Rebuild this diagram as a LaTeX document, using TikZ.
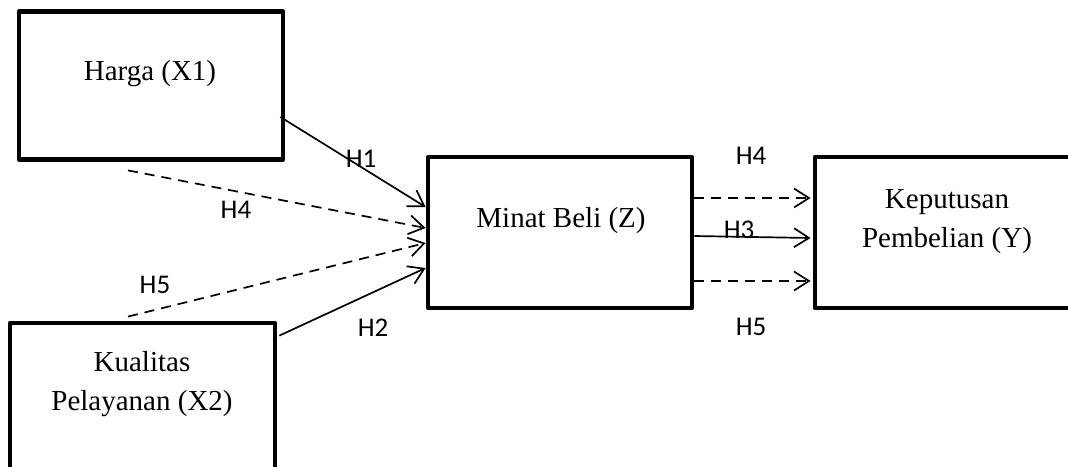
\documentclass[tikz,border=0pt]{standalone}
\usepackage{fontspec}
\setmainfont{Liberation Serif}
\newfontfamily\lblfont{Carlito}
\usetikzlibrary{arrows.meta}
\tikzset{
  x=1pt, y=-1pt,
  boxnode/.style={draw, line width=4.8pt, rectangle, inner sep=0pt, line join=round},
  boxtext/.style={font=\fontsize{29}{38.5}\selectfont, align=center, inner sep=0pt, anchor=base},
  hlabel/.style={font=\lblfont\fontsize{27}{30}\selectfont, inner sep=0pt, anchor=base},
  conn/.style={line width=1.7pt, -{Straight Barb[length=15pt,width=19pt,line width=1.7pt]}},
  dconn/.style={conn, dash pattern=on 10pt off 7pt}
}
\begin{document}
\begin{tikzpicture}
\useasboundingbox (0,0) rectangle (1068,466);
\clip (0,0) rectangle (1068,466);
% boxes
\node[boxnode, minimum width=264pt, minimum height=148pt] (x1) at (151,85.5) {};
\node[boxnode, minimum width=265pt, minimum height=167pt] (x2) at (142.5,406.5) {};
\node[boxnode, minimum width=264pt, minimum height=151pt] (z) at (560,232.5) {};
\node[boxnode, minimum width=280pt, minimum height=151pt] (y) at (955,232.5) {};
% box texts (base = baseline of last line)
\node[boxtext] (x1t) at (150,80) {Harga (X1)};
\node[boxtext] (x2t) at (142,410) {Kualitas\\Pelayanan (X2)};
\node[boxtext] (zt) at (561,227) {Minat Beli (Z)};
\node[boxtext] (yt) at (947,247) {Keputusan\\Pembelian (Y)};
% left connectors
\draw[conn] ([xshift=-5pt,yshift=-31.5pt]x1.east) -- ([yshift=25.5pt]z.west);
\draw[dconn] ([xshift=-23pt,yshift=-8.5pt]x1.south) -- ([yshift=4.5pt]z.west);
\draw[dconn] ([xshift=-14.5pt,yshift=4pt]x2.north) -- ([yshift=-10.5pt]z.west);
\draw[conn] ([xshift=2pt,yshift=-15pt]x2.north east) -- ([yshift=-35.5pt]z.west);
% right connectors
\draw[dconn] ([yshift=34.5pt]z.east) -- ([xshift=-2pt,yshift=34.5pt]y.west);
\draw[conn] ([yshift=-3.5pt]z.east) -- ([xshift=-2pt,yshift=-5.5pt]y.west);
\draw[dconn] ([yshift=-48.5pt]z.east) -- ([xshift=-2pt,yshift=-48.5pt]y.west);
% labels
\node[hlabel] (h1) at (361,167) {H1};
\node[hlabel] (h4a) at (236,218) {H4};
\node[hlabel] (h5a) at (155,293) {H5};
\node[hlabel] (h2) at (373,336) {H2};
\node[hlabel] (h4b) at (751,164) {H4};
\node[hlabel] (h3) at (739,238) {H3};
\node[hlabel] (h5b) at (751,335) {H5};
\end{tikzpicture}
\end{document}
